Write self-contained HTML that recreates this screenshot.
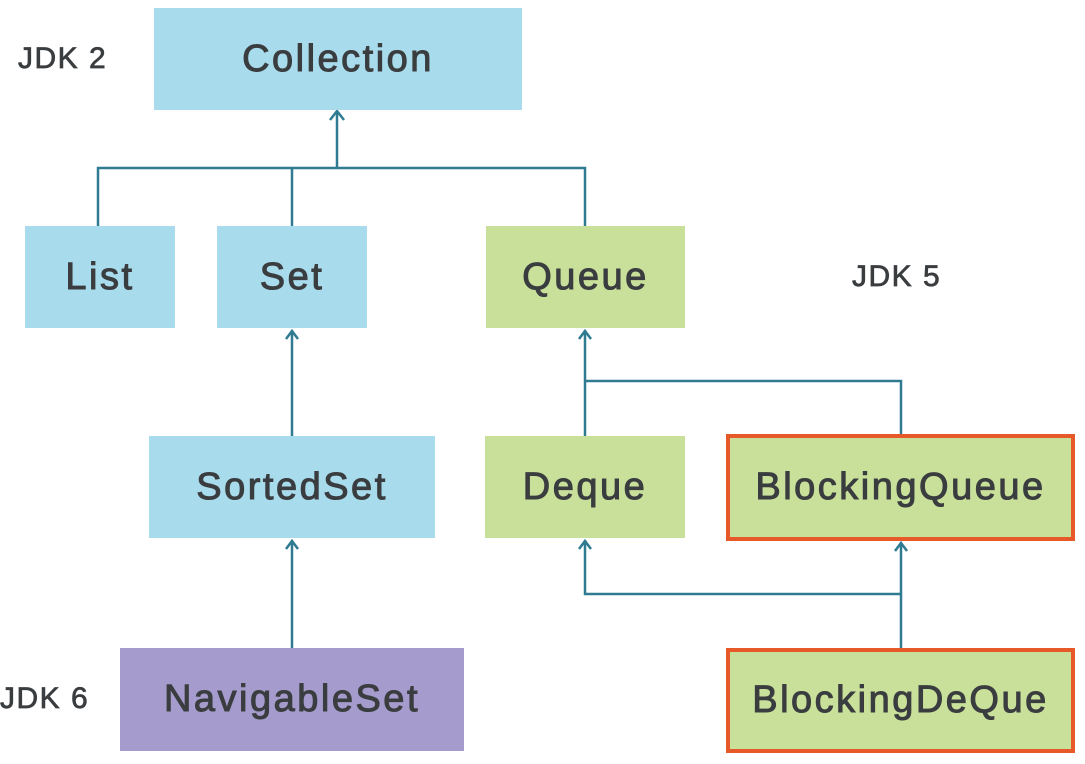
<!DOCTYPE html>
<html><head><meta charset="utf-8"><style>
html,body{margin:0;padding:0;background:#fff;}
body{width:1085px;height:764px;position:relative;overflow:hidden;font-family:"Liberation Sans",sans-serif;}
.b{position:absolute;display:flex;align-items:center;justify-content:center;font-size:38px;letter-spacing:2.5px;color:#3a3d3f;-webkit-text-stroke:1px #3a3d3f;box-sizing:border-box;}
.blue{background:#a8dbec;}
.green{background:#c9e09b;}
.purple{background:#a59ccd;}
.or{border:4px solid #e8592a;}
.l{position:absolute;font-size:30px;letter-spacing:1.5px;color:#3a3d3f;-webkit-text-stroke:0.7px #3a3d3f;}
svg{position:absolute;left:0;top:0;}
</style></head><body>
<svg width="1085" height="764">
<g stroke="#2e7b92" stroke-width="2.5" fill="none">
<path d="M98 226V168H585V226M292 226V168M337 168V112"/>
<path d="M330 120L337 111L344 120"/>
<path d="M292 436V330M286 339L292 331L298 339"/>
<path d="M292 648V540M286 549L292 541L298 549"/>
<path d="M585 436V330M579 339L585 331L591 339M585 381H901V434"/>
<path d="M901 648V542M895 551L901 543L907 551M901 594H585V540M579 549L585 541L591 549"/>
</g>
</svg>
<div class="l" style="left:18px;top:42px">JDK 2</div>
<div class="l" style="left:852px;top:260px">JDK 5</div>
<div class="l" style="left:0px;top:682px">JDK 6</div>
<div class="b blue" style="left:154px;top:8px;width:368px;height:102px">Collection</div>
<div class="b blue" style="left:25px;top:226px;width:150px;height:102px">List</div>
<div class="b blue" style="left:217px;top:226px;width:150px;height:102px">Set</div>
<div class="b green" style="left:486px;top:226px;width:199px;height:102px">Queue</div>
<div class="b blue" style="left:149px;top:436px;width:286px;height:102px">SortedSet</div>
<div class="b green" style="left:485px;top:436px;width:200px;height:102px">Deque</div>
<div class="b green or" style="left:726px;top:434px;width:349px;height:107px">BlockingQueue</div>
<div class="b purple" style="left:120px;top:648px;width:344px;height:103px">NavigableSet</div>
<div class="b green or" style="left:726px;top:648px;width:349px;height:105px">BlockingDeQue</div>
</body></html>
